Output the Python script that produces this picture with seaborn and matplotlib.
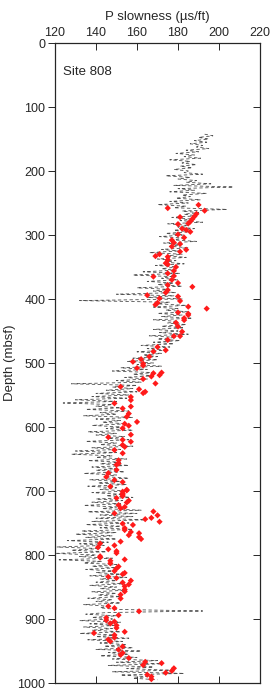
import numpy as np
import pandas as pd
import seaborn as sns
import matplotlib.pyplot as plt

sns.set_style("white")
plt.rcParams['font.family'] = ['Liberation Sans', 'DejaVu Sans']

# sonic log: slowness every 2.5 m starting at 142.5 mbsf
log_top = 142.5
log_step = 2.5
log_slowness = [
    193, 197, 190, 195, 188, 194, 186, 192, 189, 195,
    184, 190, 179, 188, 183, 191, 176, 186, 182, 189,
    181, 187, 178, 185, 183, 192, 174, 186, 180, 189,
    184, 196, 178, 207, 180, 188, 176, 194, 182, 186,
    179, 191, 176, 185, 170, 184, 178, 204, 182, 190,
    183, 189, 177, 186, 181, 192, 175, 185, 180, 188,
    178, 186, 174, 183, 171, 184, 177, 189, 173, 182,
    176, 185, 172, 180, 166, 182, 175, 184, 170, 179,
    174, 183, 169, 180, 172, 178, 163, 181, 158, 177,
    172, 180, 165, 178, 170, 182, 160, 176, 168, 179,
    150, 178, 165, 182, 132, 176, 170, 184, 168, 180,
    174, 185, 170, 182, 172, 187, 168, 180, 175, 184,
    172, 183, 168, 180, 171, 185, 166, 179, 170, 181,
    168, 178, 162, 176, 165, 174, 160, 172, 163, 170,
    158, 170, 155, 168, 160, 172, 152, 165, 148, 168,
    158, 168, 154, 165, 150, 162, 128, 160, 148, 158,
    145, 160, 140, 156, 138, 155, 130, 150, 124, 148,
    140, 152, 135, 156, 142, 150, 134, 158, 140, 152,
    143, 155, 138, 152, 145, 158, 136, 150, 140, 154,
    146, 156, 135, 150, 142, 158, 138, 152, 130, 150,
    128, 148, 140, 155, 136, 152, 142, 156, 138, 150,
    140, 154, 134, 150, 144, 156, 137, 152, 141, 155,
    136, 150, 142, 156, 138, 152, 145, 158, 140, 153,
    138, 152, 134, 150, 143, 162, 136, 160, 142, 158,
    140, 164, 138, 156, 135, 152, 142, 158, 133, 150,
    130, 148, 135, 150, 126, 146, 132, 144, 121, 142,
    128, 145, 120, 140, 132, 148, 122, 143, 134, 150,
    138, 150, 135, 148, 140, 152, 137, 155, 142, 150,
    140, 153, 137, 150, 142, 155, 138, 150, 141, 152,
    136, 148, 140, 152, 134, 146, 142, 150, 192, 145,
    135, 150, 138, 148, 132, 152, 137, 150, 134, 148,
    138, 152, 132, 150, 140, 156, 136, 153, 142, 155,
    144, 158, 140, 162, 146, 156, 142, 160, 148, 170,
    150, 172, 146, 168, 155, 176, 148, 183, 152, 165,
    158, 170,
]
log_depth = log_top + log_step * np.arange(len(log_slowness))

# discrete (core) measurements
core_depth = [
    258, 253, 262, 272, 267, 271, 275, 279, 282, 283, 290, 292, 295, 299, 304,
    308, 312, 314, 318, 323, 326, 333, 330, 334, 339, 344, 346, 350, 356, 360,
    365, 364, 370, 375, 381, 378, 386, 390, 394, 396, 399, 403, 406, 409, 412,
    415, 421, 423, 425, 430, 433, 437, 443, 451, 458, 458, 464, 475, 480, 482,
    490, 494, 498, 501, 504, 508, 515, 516, 519, 521, 525, 532, 537, 541, 545,
    547, 553, 558, 563, 571, 568, 579, 584, 592, 595, 598, 602, 612, 616, 620,
    623, 628, 631, 636, 641, 652, 657, 659, 667, 672, 678, 683, 686, 693, 701,
    698, 706, 711, 699, 704, 708, 715, 718, 722, 725, 727, 735, 732, 738, 742,
    744, 748, 751, 753, 758, 761, 764, 766, 769, 772, 775, 779, 782, 788, 785,
    791, 794, 797, 802, 804, 807, 809, 813, 818, 821, 825, 828, 830, 834, 836,
    840, 846, 843, 849, 854, 857, 862, 868, 880, 883, 888, 894, 898, 902, 904,
    907, 910, 914, 920, 922, 925, 929, 932, 935, 943, 948, 953, 956, 961, 967,
    969, 972, 977, 981, 984, 987, 990, 994,
]
core_slowness = [
    175, 190, 193, 181, 189, 188, 187, 186, 185, 180, 182, 184, 186, 180, 183,
    177, 178, 181, 177, 184, 181, 169, 171, 175, 175, 174, 175, 179, 178, 175,
    168, 178, 177, 180, 187, 175, 175, 174, 165, 180, 171, 181, 170, 169, 185,
    194, 180, 185, 185, 183, 183, 179, 180, 182, 178, 181, 175, 170, 174, 168,
    166, 162, 158, 163, 163, 160, 172, 168, 171, 167, 163, 169, 152, 161, 164,
    163, 157, 157, 149, 153, 157, 156, 155, 160, 154, 156, 153, 157, 146, 153,
    157, 153, 154, 149, 153, 151, 151, 150, 150, 146, 145, 149, 153, 147, 153,
    155, 153, 150, 155, 153, 153, 156, 155, 151, 154, 152, 149, 168, 170, 167,
    164, 171, 153, 158, 154, 154, 157, 161, 156, 161, 162, 152, 142, 141, 149,
    146, 150, 150, 142, 142, 154, 147, 147, 151, 150, 149, 154, 153, 146, 150,
    157, 156, 153, 154, 154, 154, 152, 152, 146, 149, 161, 151, 145, 145, 149,
    147, 150, 150, 154, 139, 149, 149, 146, 147, 153, 151, 153, 152, 156, 164,
    172, 163, 178, 177, 174, 165, 167, 167,
]

log_df = pd.DataFrame({"slowness": log_slowness, "depth": log_depth})
core_df = pd.DataFrame({"slowness": core_slowness, "depth": core_depth})

fig = plt.figure(figsize=(2.7, 6.92), dpi=100)
ax = fig.add_axes([55 / 270, 1 - 683 / 692, 205 / 270, 640 / 692])

sns.lineplot(data=log_df, x="slowness", y="depth", orient="y", estimator=None,
             color="#505050", linewidth=0.6, ax=ax)
ax.lines[0].set_dashes((4, 3))
sns.scatterplot(data=core_df, x="slowness", y="depth", marker="D", s=10,
                color="#ff1a1a", edgecolor="none", ax=ax, zorder=3)

ax.set_xlim(120, 220)
ax.set_ylim(1000, 0)
ax.set_xticks(range(120, 221, 20))
ax.set_yticks(range(0, 1001, 100))
ax.xaxis.set_label_position("top")
ax.set_xlabel("P slowness (µs/ft)", fontsize=9.5, labelpad=5)
ax.set_ylabel("Depth (mbsf)", fontsize=9.5)
ax.yaxis.set_label_coords(-0.19, 0.5)
ax.tick_params(axis="x", top=True, bottom=True, labeltop=True, labelbottom=False,
               direction="in", length=5, width=0.7, labelsize=9, pad=3)
ax.tick_params(axis="y", left=True, right=False, direction="out", length=5,
               width=0.7, labelsize=9, pad=2)
for s in ax.spines.values():
    s.set_linewidth(0.8)
    s.set_color("black")

# inward ticks on the right spine
ax_r = ax.twinx()
ax_r.set_ylim(1000, 0)
ax_r.set_yticks(range(0, 1001, 100))
ax_r.tick_params(axis="y", direction="in", length=5, width=0.7, labelright=False)
ax_r.grid(False)

ax.text(124, 45, "Site 808", fontsize=9.5, va="center", ha="left")
if ax.get_legend():
    ax.get_legend().remove()

fig.savefig("out.png", dpi=100)
